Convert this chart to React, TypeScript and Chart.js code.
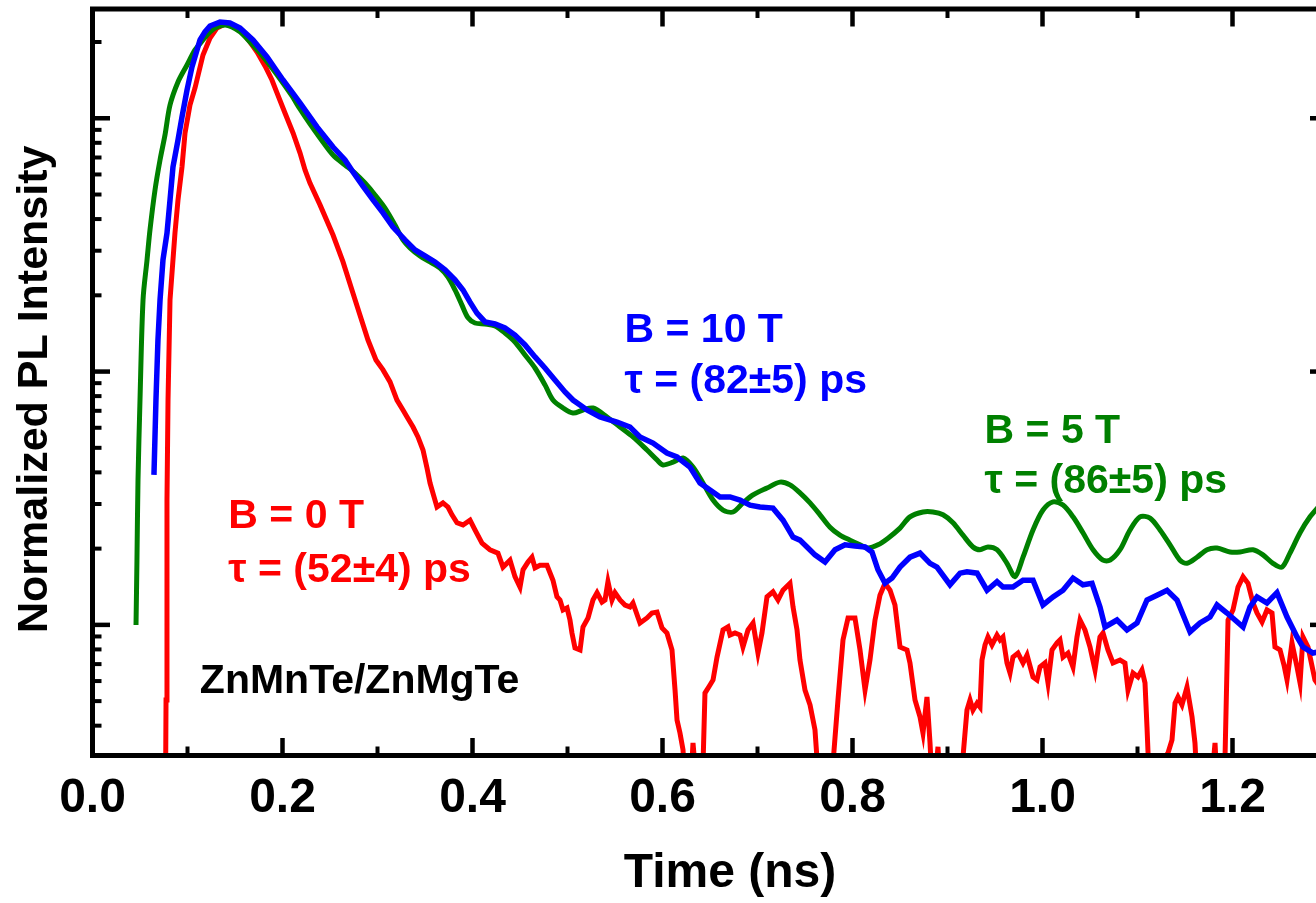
import React, { useEffect, useRef } from "react";
import { Chart, registerables } from "chart.js";

Chart.register(...registerables);

// ---- axis ranges & ticks ----
const X_MIN = 0;
const X_MAX = 1.3;
const Y_MIN = 0.00305;
const Y_MAX = 2.7;
const X_TICKS = [0.0, 0.2, 0.4, 0.6, 0.8, 1.0, 1.2];
const X_MINOR = [0.1, 0.3, 0.5, 0.7, 0.9, 1.1];
const Y_MAJOR = [0.01, 0.1, 1];
const Y_MINOR = [
  0.004, 0.005, 0.006, 0.007, 0.008, 0.009,
  0.02, 0.03, 0.04, 0.05, 0.06, 0.07, 0.08, 0.09,
  0.2, 0.3, 0.4, 0.5, 0.6, 0.7, 0.8, 0.9, 2,
];

const X_TITLE = "Time (ns)";
const Y_TITLE = "Normalized PL Intensity";

// ---- series: [time (ns), normalized PL intensity] ----
const B0_DATA: [number, number][] = [
  [0.0768, 0.002], [0.0774, 0.00505], [0.0784, 0.0311], [0.0795, 0.0772], [0.0816, 0.192], [0.0868, 0.352],
  [0.09, 0.476], [0.0942, 0.642], [0.0974, 0.875], [0.1026, 1.128], [0.1079, 1.317], [0.1163, 1.778],
  [0.1237, 2.075], [0.1311, 2.273], [0.1395, 2.357], [0.1479, 2.336], [0.1574, 2.192], [0.1658, 2.001],
  [0.1732, 1.827], [0.1816, 1.609], [0.1889, 1.416], [0.1942, 1.259], [0.2026, 1.049], [0.2111, 0.875],
  [0.2184, 0.73], [0.2237, 0.625], [0.2289, 0.555], [0.2395, 0.455], [0.2532, 0.346], [0.2637, 0.271],
  [0.2742, 0.204], [0.2816, 0.167], [0.29, 0.1332], [0.2984, 0.1111], [0.3058, 0.1015], [0.3132, 0.091],
  [0.3205, 0.0772], [0.3268, 0.0705], [0.3311, 0.0662], [0.3374, 0.0604], [0.3426, 0.0552], [0.3479, 0.049],
  [0.3521, 0.0416], [0.3553, 0.0363], [0.3595, 0.032], [0.3626, 0.0292], [0.3689, 0.0303], [0.3742, 0.0292],
  [0.3784, 0.0272], [0.3837, 0.0253], [0.39, 0.0248], [0.3974, 0.0259], [0.4026, 0.0237], [0.41, 0.021],
  [0.4184, 0.0198], [0.4268, 0.0192], [0.4321, 0.0169], [0.4395, 0.018], [0.4447, 0.0155], [0.45, 0.0141],
  [0.4532, 0.0165], [0.4584, 0.0177], [0.4626, 0.0185], [0.4658, 0.0168], [0.4711, 0.0172], [0.4784, 0.0172],
  [0.4847, 0.015], [0.4889, 0.0129], [0.4921, 0.01254], [0.4953, 0.01145], [0.4995, 0.01166], [0.5026, 0.01045],
  [0.5047, 0.00929], [0.5079, 0.00811], [0.5132, 0.00796], [0.5163, 0.00981], [0.5216, 0.01065], [0.5268, 0.01254],
  [0.5311, 0.0134], [0.5363, 0.01231], [0.5395, 0.01254], [0.5426, 0.0148], [0.5468, 0.01254], [0.55, 0.0134],
  [0.5553, 0.01254], [0.5605, 0.01198], [0.5658, 0.01177], [0.5689, 0.0122], [0.5763, 0.01017], [0.5837, 0.01065],
  [0.5889, 0.01114], [0.5942, 0.01124], [0.5995, 0.00972], [0.6047, 0.00929], [0.61, 0.00796], [0.6132, 0.00553],
  [0.6153, 0.00421], [0.6184, 0.00374], [0.6216, 0.00321], [0.6247, 0.002], [0.6289, 0.002], [0.6321, 0.00342],
  [0.6374, 0.002], [0.6416, 0.002], [0.6447, 0.00538], [0.65, 0.00579], [0.6532, 0.00606], [0.6574, 0.00746],
  [0.6637, 0.00955], [0.6689, 0.00981], [0.6711, 0.00912], [0.6763, 0.00929], [0.6816, 0.00912], [0.6847, 0.00818],
  [0.69, 0.00955], [0.6953, 0.01017], [0.7005, 0.00774], [0.7047, 0.00929], [0.71, 0.0129], [0.7163, 0.0135],
  [0.7216, 0.01254], [0.7268, 0.0137], [0.7342, 0.0146], [0.7374, 0.01177], [0.7416, 0.00955], [0.7447, 0.00727],
  [0.75, 0.00553], [0.7553, 0.00483], [0.7605, 0.00385], [0.7658, 0.002], [0.7763, 0.002], [0.7847, 0.00505],
  [0.79, 0.00872], [0.7953, 0.01065], [0.8026, 0.01065], [0.8079, 0.00796], [0.8132, 0.00553], [0.8184, 0.00727],
  [0.8237, 0.01045], [0.8289, 0.0131], [0.8342, 0.0146], [0.8395, 0.0137], [0.8447, 0.01198], [0.85, 0.00818],
  [0.8574, 0.00796], [0.8605, 0.00707], [0.8658, 0.00505], [0.8711, 0.00433], [0.8742, 0.00374], [0.8784, 0.00519],
  [0.8816, 0.00342], [0.8847, 0.002], [0.89, 0.0033], [0.8932, 0.002], [0.9132, 0.002], [0.9163, 0.00301],
  [0.9205, 0.00461], [0.9237, 0.00505], [0.9268, 0.00461], [0.9311, 0.00491], [0.9342, 0.00474], [0.9363, 0.00727],
  [0.9395, 0.00833], [0.9426, 0.00896], [0.9468, 0.00833], [0.9521, 0.00912], [0.9553, 0.00872], [0.9584, 0.00896],
  [0.9626, 0.00707], [0.9658, 0.00646], [0.9689, 0.00746], [0.9742, 0.00774], [0.9795, 0.00707], [0.9837, 0.0076],
  [0.99, 0.00623], [0.9942, 0.00606], [0.9974, 0.00682], [1.0026, 0.00707], [1.0058, 0.0059], [1.01, 0.00796],
  [1.0153, 0.00849], [1.0184, 0.00872], [1.0216, 0.00746], [1.0268, 0.00774], [1.0321, 0.00682], [1.0363, 0.00896],
  [1.0395, 0.01045], [1.0447, 0.00955], [1.05, 0.00818], [1.0553, 0.00664], [1.0605, 0.00896], [1.0637, 0.00929],
  [1.0689, 0.00796], [1.0742, 0.00707], [1.0816, 0.00727], [1.0868, 0.00707], [1.09, 0.00553], [1.0953, 0.00646],
  [1.1005, 0.00623], [1.1047, 0.00664], [1.1079, 0.0059], [1.11, 0.00395], [1.1132, 0.002], [1.1237, 0.002],
  [1.1289, 0.00301], [1.1321, 0.00312], [1.1363, 0.00351], [1.1395, 0.00491], [1.1426, 0.00519], [1.1468, 0.00483],
  [1.1521, 0.00568], [1.1574, 0.00433], [1.1605, 0.00342], [1.1637, 0.002], [1.1763, 0.002], [1.1816, 0.00342],
  [1.1847, 0.002], [1.1911, 0.002], [1.1953, 0.01045], [1.2005, 0.01145], [1.2058, 0.0141], [1.2111, 0.0155],
  [1.2163, 0.0146], [1.2216, 0.0122], [1.2258, 0.01114], [1.2311, 0.01026], [1.2363, 0.01145], [1.2416, 0.01114],
  [1.2447, 0.00818], [1.25, 0.00796], [1.2542, 0.00694], [1.2574, 0.00606], [1.2626, 0.00849], [1.2679, 0.00682],
  [1.2711, 0.0059], [1.2742, 0.00896], [1.2795, 0.00818], [1.2868, 0.00606], [1.2942, 0.00553], [1.3005, 0.00579],
];

const B5_DATA: [number, number][] = [
  [0.0458, 0.00999], [0.0468, 0.018], [0.0479, 0.0373], [0.05, 0.0772], [0.0532, 0.192], [0.0574, 0.276],
  [0.0605, 0.362], [0.0658, 0.521], [0.0711, 0.685], [0.0763, 0.859], [0.0816, 1.128], [0.09, 1.391],
  [0.0995, 1.623], [0.1079, 1.861], [0.1163, 2.037], [0.1237, 2.192], [0.1311, 2.293], [0.1395, 2.336],
  [0.1468, 2.293], [0.1553, 2.192], [0.1658, 2.001], [0.1763, 1.811], [0.1889, 1.58], [0.2005, 1.378],
  [0.21, 1.225], [0.2184, 1.088], [0.2289, 0.95], [0.2395, 0.836], [0.2532, 0.716], [0.2658, 0.654],
  [0.2763, 0.608], [0.2868, 0.555], [0.2974, 0.498], [0.3079, 0.442], [0.3184, 0.379], [0.3268, 0.331],
  [0.3342, 0.308], [0.3447, 0.286], [0.3553, 0.271], [0.3658, 0.256], [0.3742, 0.236], [0.3816, 0.21],
  [0.3889, 0.183], [0.3953, 0.163], [0.4026, 0.1555], [0.4132, 0.1541], [0.4237, 0.1514], [0.4342, 0.142],
  [0.4447, 0.1309], [0.4553, 0.1163], [0.4658, 0.1033], [0.4763, 0.0886], [0.4847, 0.0772], [0.4953, 0.0718],
  [0.5058, 0.0686], [0.5163, 0.0705], [0.5268, 0.0718], [0.5416, 0.0662], [0.5553, 0.0604], [0.5689, 0.0552],
  [0.5837, 0.049], [0.5942, 0.0448], [0.6005, 0.0428], [0.6111, 0.0439], [0.6216, 0.0456], [0.6321, 0.042],
  [0.6426, 0.0363], [0.6532, 0.0311], [0.6637, 0.0284], [0.6742, 0.0279], [0.6847, 0.0303], [0.6953, 0.0326],
  [0.71, 0.0347], [0.7237, 0.0366], [0.7342, 0.0357], [0.7447, 0.0332], [0.7553, 0.0303], [0.7658, 0.0272],
  [0.7763, 0.0243], [0.7868, 0.0226], [0.7974, 0.0216], [0.8079, 0.0207], [0.8163, 0.0201], [0.8268, 0.0207],
  [0.8374, 0.022], [0.85, 0.0241], [0.8605, 0.0267], [0.8742, 0.0279], [0.8847, 0.0279], [0.8953, 0.0272],
  [0.9058, 0.0253], [0.9163, 0.0226], [0.9268, 0.0203], [0.9342, 0.0198], [0.9426, 0.0203], [0.9521, 0.0198],
  [0.9626, 0.0175], [0.9711, 0.0155], [0.9795, 0.0185], [0.99, 0.0237], [1.0005, 0.0284], [1.0111, 0.0306],
  [1.0216, 0.0297], [1.0321, 0.0267], [1.0426, 0.0231], [1.0532, 0.0198], [1.0637, 0.018], [1.0711, 0.018],
  [1.0816, 0.0198], [1.0921, 0.0237], [1.1026, 0.0267], [1.1132, 0.0264], [1.1237, 0.0237], [1.1342, 0.0207],
  [1.1447, 0.018], [1.1521, 0.0175], [1.1626, 0.0185], [1.1732, 0.0198], [1.1837, 0.0201], [1.1974, 0.0194],
  [1.2079, 0.0194], [1.2216, 0.0198], [1.2321, 0.0189], [1.2426, 0.0175], [1.2521, 0.0169], [1.2605, 0.0192],
  [1.2711, 0.0231], [1.2816, 0.0267], [1.2921, 0.0297], [1.3005, 0.0326],
];

const B10_DATA: [number, number][] = [
  [0.0647, 0.0391], [0.0668, 0.0772], [0.0689, 0.1332], [0.0711, 0.192], [0.0742, 0.276], [0.0784, 0.352],
  [0.0816, 0.476], [0.0847, 0.642], [0.09, 0.821], [0.0942, 1.012], [0.0995, 1.293], [0.1047, 1.594],
  [0.11, 1.861], [0.1132, 2.037], [0.1184, 2.192], [0.1237, 2.314], [0.1342, 2.397], [0.1447, 2.378],
  [0.1553, 2.273], [0.1689, 2.037], [0.1837, 1.746], [0.2005, 1.416], [0.2184, 1.149], [0.2363, 0.924],
  [0.2532, 0.77], [0.2658, 0.685], [0.2742, 0.614], [0.2847, 0.54], [0.2953, 0.476], [0.3058, 0.423],
  [0.3163, 0.372], [0.3289, 0.331], [0.3395, 0.302], [0.35, 0.286], [0.3605, 0.271], [0.3711, 0.252],
  [0.3816, 0.23], [0.39, 0.21], [0.3974, 0.188], [0.4047, 0.17], [0.4132, 0.157], [0.4237, 0.1541],
  [0.4342, 0.1486], [0.4447, 0.1394], [0.4553, 0.1274], [0.4658, 0.1142], [0.4763, 0.1033], [0.4868, 0.0927],
  [0.4974, 0.0831], [0.5058, 0.0772], [0.5132, 0.0738], [0.5205, 0.0705], [0.5342, 0.0662], [0.5521, 0.0632],
  [0.5658, 0.0604], [0.5763, 0.0552], [0.59, 0.0522], [0.6047, 0.0477], [0.6153, 0.046], [0.6289, 0.042],
  [0.6395, 0.0363], [0.65, 0.0341], [0.6605, 0.032], [0.6711, 0.032], [0.6816, 0.0311], [0.6921, 0.0297],
  [0.7026, 0.0292], [0.7163, 0.0289], [0.7268, 0.0259], [0.7374, 0.0222], [0.7447, 0.0216], [0.7532, 0.0201],
  [0.7605, 0.0189], [0.7711, 0.0177], [0.7816, 0.0198], [0.7921, 0.0207], [0.8026, 0.0205], [0.8132, 0.0203],
  [0.8205, 0.0194], [0.8268, 0.0165], [0.8342, 0.0146], [0.8416, 0.0153], [0.85, 0.0169], [0.8605, 0.0185],
  [0.8711, 0.0192], [0.8816, 0.0175], [0.8889, 0.0169], [0.9026, 0.0144], [0.9132, 0.016], [0.9205, 0.0162],
  [0.9311, 0.016], [0.9416, 0.0137], [0.9521, 0.0148], [0.9584, 0.0141], [0.9689, 0.0141], [0.9795, 0.015],
  [0.99, 0.015], [1.0005, 0.01198], [1.0111, 0.0129], [1.0216, 0.0137], [1.0321, 0.0153], [1.0426, 0.0144],
  [1.0521, 0.0146], [1.0605, 0.01177], [1.0658, 0.00981], [1.0784, 0.01045], [1.0889, 0.00955], [1.0995, 0.01017],
  [1.11, 0.01254], [1.1205, 0.0131], [1.1311, 0.0137], [1.1416, 0.01254], [1.1553, 0.00938], [1.1658, 0.01017],
  [1.1763, 0.01074], [1.1837, 0.01198], [1.1942, 0.01114], [1.2111, 0.00981], [1.2184, 0.01177], [1.2258, 0.0129],
  [1.2363, 0.0122], [1.2468, 0.0134], [1.2574, 0.01074], [1.2679, 0.00896], [1.2742, 0.00818], [1.2847, 0.00774],
  [1.3005, 0.00796],
];

// ---- annotations: [text, colour, time, intensity(baseline)] ----
const NOTES: [string, string, number, number][] = [
  ["B = 0 T", "#ff0000", 0.143, 0.0241],
  ["τ = (52±4) ps", "#ff0000", 0.143, 0.0148],
  ["B = 10 T", "#0000ff", 0.56, 0.1309],
  ["τ = (82±5) ps", "#0000ff", 0.56, 0.0823],
  ["B = 5 T", "#008000", 0.939, 0.0522],
  ["τ = (86±5) ps", "#008000", 0.939, 0.0332],
  ["ZnMnTe/ZnMgTe", "#000000", 0.113, 0.00538],
];

const FONT = '"Liberation Sans", Arial, Helvetica, sans-serif';

const toPoints = (d: [number, number][]) => d.map(([x, y]) => ({ x, y }));

const framePlugin = {
  id: "frameTicks",
  afterDatasetsDraw(chart: any) {
    const { ctx, chartArea: a, scales } = chart;
    const xs = scales.x;
    const ys = scales.y;
    ctx.save();
    ctx.strokeStyle = "#000";
    ctx.lineCap = "butt";
    const seg = (x1: number, y1: number, x2: number, y2: number, w: number) => {
      ctx.lineWidth = w;
      ctx.beginPath();
      ctx.moveTo(x1, y1);
      ctx.lineTo(x2, y2);
      ctx.stroke();
    };
    const MAJ = 17.5, MIN = 9;
    X_TICKS.forEach((v) => {
      const p = xs.getPixelForValue(v);
      seg(p, a.bottom, p, a.bottom - MAJ, 4.5);
      seg(p, a.top, p, a.top + MAJ, 4.5);
    });
    X_MINOR.forEach((v) => {
      const p = xs.getPixelForValue(v);
      seg(p, a.bottom, p, a.bottom - MIN, 4);
      seg(p, a.top, p, a.top + MIN, 4);
    });
    Y_MAJOR.forEach((v) => {
      const p = ys.getPixelForValue(v);
      seg(a.left, p, a.left + MAJ, p, 4.5);
      seg(a.right, p, a.right - MAJ, p, 4.5);
    });
    Y_MINOR.forEach((v) => {
      const p = ys.getPixelForValue(v);
      seg(a.left, p, a.left + MIN, p, 4);
      seg(a.right, p, a.right - MIN, p, 4);
    });
    ctx.lineWidth = 5;
    ctx.lineJoin = "miter";
    ctx.strokeRect(a.left, a.top, a.right - a.left, a.bottom - a.top);

    // annotations
    ctx.textAlign = "left";
    ctx.textBaseline = "alphabetic";
    NOTES.forEach(([text, color, t, v]) => {
      ctx.fillStyle = color;
      ctx.font = `bold 41px ${FONT}`;
      ctx.fillText(text, xs.getPixelForValue(t), ys.getPixelForValue(v));
    });

    // axis titles
    ctx.fillStyle = "#000";
    ctx.font = `bold 48px ${FONT}`;
    ctx.textAlign = "center";
    ctx.fillText(X_TITLE, (a.left + a.right) / 2 + 20, a.bottom + 131);
    ctx.save();
    ctx.translate(47, (a.top + a.bottom) / 2 + 7);
    ctx.rotate(-Math.PI / 2);
    ctx.font = `bold 43px ${FONT}`;
    ctx.textAlign = "center";
    ctx.fillText(Y_TITLE, 0, 0);
    ctx.restore();
    ctx.restore();
  },
};

export default function App() {
  const ref = useRef<HTMLCanvasElement | null>(null);
  useEffect(() => {
    if (!ref.current) return;
    const chart = new Chart(ref.current, {
      type: "line",
      data: {
        datasets: [
          {
            label: "B = 10 T",
            data: toPoints(B10_DATA),
            borderColor: "#0000ff",
            borderWidth: 5.5,
            pointRadius: 0,
            tension: 0,
            order: 0,
          },
          {
            label: "B = 5 T",
            data: toPoints(B5_DATA),
            borderColor: "#008000",
            borderWidth: 5,
            pointRadius: 0,
            tension: 0.3,
            order: 1,
          },
          {
            label: "B = 0 T",
            data: toPoints(B0_DATA),
            borderColor: "#ff0000",
            borderWidth: 5,
            pointRadius: 0,
            tension: 0,
            order: 2,
          },
        ],
      },
      options: {
        animation: false,
        responsive: false,
        devicePixelRatio: 1,
        events: [],
        layout: { padding: { left: 0, right: 17.5, top: 9, bottom: 0 } },
        plugins: { legend: { display: false }, tooltip: { enabled: false } },
        scales: {
          x: {
            type: "linear",
            min: X_MIN,
            max: X_MAX,
            afterBuildTicks: (s: any) => {
              s.ticks = X_TICKS.map((v) => ({ value: v }));
            },
            afterFit: (s: any) => {
              s.height = 147.5;
            },
            grid: { display: false, drawTicks: false, tickLength: 0 },
            border: { display: false },
            ticks: {
              color: "#000",
              padding: 14,
              maxRotation: 0,
              autoSkip: false,
              font: { family: FONT, size: 48, weight: "bold" },
              callback: (v: any) => Number(v).toFixed(1),
            },
          },
          y: {
            type: "logarithmic",
            min: Y_MIN,
            max: Y_MAX,
            afterFit: (s: any) => {
              s.width = 92.5;
            },
            grid: { display: false, drawTicks: false },
            border: { display: false },
            ticks: { display: false },
          },
        },
      },
      plugins: [framePlugin],
    } as any);
    return () => chart.destroy();
  }, []);

  return (
    <div
      style={{
        position: "fixed",
        left: 0,
        top: 0,
        width: 1316,
        height: 903,
        overflow: "hidden",
        background: "#fff",
      }}
    >
      <canvas ref={ref} width={1345} height={903} style={{ display: "block" }} />
    </div>
  );
}
